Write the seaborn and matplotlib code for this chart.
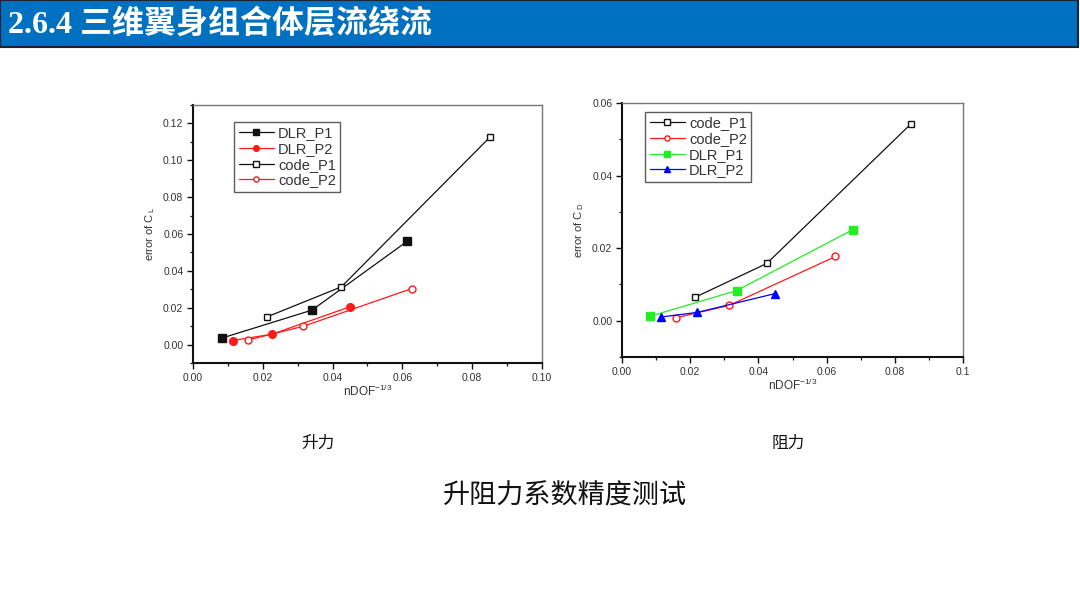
import matplotlib
matplotlib.use("Agg")
import matplotlib.pyplot as plt
from matplotlib.patches import Rectangle
from matplotlib.ticker import MultipleLocator, FixedLocator
import seaborn as sns
import pandas as pd

# ---------------- data ----------------
# Lift (left panel)
lift_dlr_p1_x = [0.0084, 0.0341, 0.0614]
lift_dlr_p1_y = [0.0036, 0.0187, 0.0561]
lift_dlr_p2_x = [0.0114, 0.0226, 0.0450]
lift_dlr_p2_y = [0.0022, 0.0056, 0.0205]
lift_code_p1_x = [0.0213, 0.0425, 0.0850]
lift_code_p1_y = [0.0151, 0.0313, 0.1124]
lift_code_p2_x = [0.0158, 0.0316, 0.0627]
lift_code_p2_y = [0.0025, 0.0099, 0.0304]

# Drag (right panel)
drag_code_p1_x = [0.0213, 0.0425, 0.0848]
drag_code_p1_y = [0.0064, 0.0158, 0.0543]
drag_code_p2_x = [0.0157, 0.0314, 0.0626]
drag_code_p2_y = [0.0008, 0.0042, 0.0177]
drag_dlr_p1_x = [0.0081, 0.0336, 0.0677]
drag_dlr_p1_y = [0.0012, 0.0083, 0.0251]
drag_dlr_p2_x = [0.0113, 0.0221, 0.0450]
drag_dlr_p2_y = [0.0010, 0.0023, 0.0075]

lift_xticks = [0.00, 0.02, 0.04, 0.06, 0.08, 0.10]
lift_xticklabels = ["0.00", "0.02", "0.04", "0.06", "0.08", "0.10"]
lift_yticks = [0.00, 0.02, 0.04, 0.06, 0.08, 0.10, 0.12]
drag_xticks = [0.00, 0.02, 0.04, 0.06, 0.08, 0.10]
drag_xticklabels = ["0.00", "0.02", "0.04", "0.06", "0.08", "0.1"]
drag_yticks = [0.00, 0.02, 0.04, 0.06]

title_text = "2.6.4 三维翼身组合体层流绕流"
caption_lift = "升力"
caption_drag = "阻力"
caption_main = "升阻力系数精度测试"

# ---------------- style ----------------
sns.set_theme(style="white")
plt.rcParams["font.family"] = ["Liberation Sans", "Noto Sans CJK SC", "DejaVu Sans"]
plt.rcParams["mathtext.fontset"] = "custom"
plt.rcParams["mathtext.rm"] = "Liberation Sans"

fig = plt.figure(figsize=(10.8, 6.07), dpi=100)
W, H = 1080, 607

def fig_axes(x0, y0, x1, y1):
    return fig.add_axes([x0 / W, 1 - y1 / H, (x1 - x0) / W, (y1 - y0) / H])

ax1 = fig_axes(193, 105, 542, 363)
ax2 = fig_axes(622, 103, 963, 357)

RED = "#ff1a1a"
GREEN = "#22ee22"
BLUE = "#0000ff"
BLACK = "#111111"

def series(ax, xs, ys, label, color, marker, filled, ms=5):
    df = pd.DataFrame({"x": xs, "y": ys})
    sns.lineplot(data=df, x="x", y="y", ax=ax, sort=False, estimator=None,
                 color=color, lw=0.9, marker=marker, markersize=ms,
                 markerfacecolor=color if filled else "white",
                 markeredgecolor=color, markeredgewidth=1.0, label=label)

series(ax1, lift_dlr_p1_x, lift_dlr_p1_y, "DLR_P1", BLACK, "s", True, 5.5)
series(ax1, lift_dlr_p2_x, lift_dlr_p2_y, "DLR_P2", RED, "o", True, 5.5)
series(ax1, lift_code_p1_x, lift_code_p1_y, "code_P1", BLACK, "s", False, 5)
series(ax1, lift_code_p2_x, lift_code_p2_y, "code_P2", RED, "o", False, 5)

series(ax2, drag_code_p1_x, drag_code_p1_y, "code_P1", BLACK, "s", False, 5)
series(ax2, drag_code_p2_x, drag_code_p2_y, "code_P2", RED, "o", False, 5)
series(ax2, drag_dlr_p1_x, drag_dlr_p1_y, "DLR_P1", GREEN, "s", True, 5.5)
series(ax2, drag_dlr_p2_x, drag_dlr_p2_y, "DLR_P2", BLUE, "^", True, 5.5)

def style_axes(ax, xticks, xlabels, yticks, ylim, ylabel, anchor):
    ax.set_xlim(0, 0.10)
    ax.set_ylim(*ylim)
    ax.xaxis.set_major_locator(FixedLocator(xticks))
    ax.set_xticklabels(xlabels)
    ax.xaxis.set_minor_locator(MultipleLocator(0.01))
    ax.yaxis.set_major_locator(FixedLocator(yticks))
    ax.set_yticklabels([f"{v:.2f}" for v in yticks])
    ax.yaxis.set_minor_locator(MultipleLocator(0.01))
    ax.tick_params(which="both", direction="out", bottom=True, left=True,
                   top=False, right=False, color=BLACK)
    ax.tick_params(which="major", length=4, width=1.0, labelsize=7.5,
                   labelcolor="#333333", pad=3)
    ax.tick_params(which="minor", length=2.5, width=0.9)
    for s in ["bottom", "left"]:
        ax.spines[s].set_color(BLACK)
        ax.spines[s].set_linewidth(1.5)
    for s in ["top", "right"]:
        ax.spines[s].set_color("#777777")
        ax.spines[s].set_linewidth(1.0)
    ax.set_xlabel("nDOF$^{-1/3}$", fontsize=8.5, color="#333333", labelpad=1)
    ax.set_ylabel(ylabel, fontsize=8, color="#333333", labelpad=4)
    leg = ax.legend(loc="upper left", bbox_to_anchor=anchor,
                    fontsize=10.5, frameon=True, fancybox=False, handlelength=2.4,
                    handletextpad=0.3, labelspacing=0.12, borderpad=0.3,
                    borderaxespad=0.0, markerscale=0.75)
    leg.get_frame().set_edgecolor("#333333")
    leg.get_frame().set_linewidth(1.0)
    for t in leg.get_texts():
        t.set_color("#333333")

style_axes(ax1, lift_xticks, lift_xticklabels, lift_yticks, (-0.01, 0.13),
           "error of C$_{\\,\\mathrm{L}}$", (0.118, 0.935))
style_axes(ax2, drag_xticks, drag_xticklabels, drag_yticks, (-0.01, 0.06),
           "error of C$_{\\,\\mathrm{D}}$", (0.068, 0.965))

# ---------------- header bar ----------------
fig.patches.append(Rectangle((0, 1 - 47 / H), 1078 / W, 47 / H, transform=fig.transFigure,
                             facecolor="#0070c0", edgecolor="#1b2433", lw=1.5, zorder=0))
fig.text(8 / W, 1 - 24 / H, title_text, color="white", fontsize=23, fontweight="bold",
         va="center", ha="left", family=["Liberation Serif", "Noto Sans CJK SC"])

# ---------------- captions ----------------
fig.text(318 / W, 1 - 443 / H, caption_lift, fontsize=12, ha="center", va="center",
         family=["Noto Sans CJK SC"], color="#111111")
fig.text(788 / W, 1 - 443 / H, caption_drag, fontsize=12, ha="center", va="center",
         family=["Noto Sans CJK SC"], color="#111111")
fig.text(565 / W, 1 - 496 / H, caption_main, fontsize=19.5, ha="center", va="center",
         family=["Noto Sans CJK SC"], color="#111111")

fig.savefig("out.png", dpi=100)
